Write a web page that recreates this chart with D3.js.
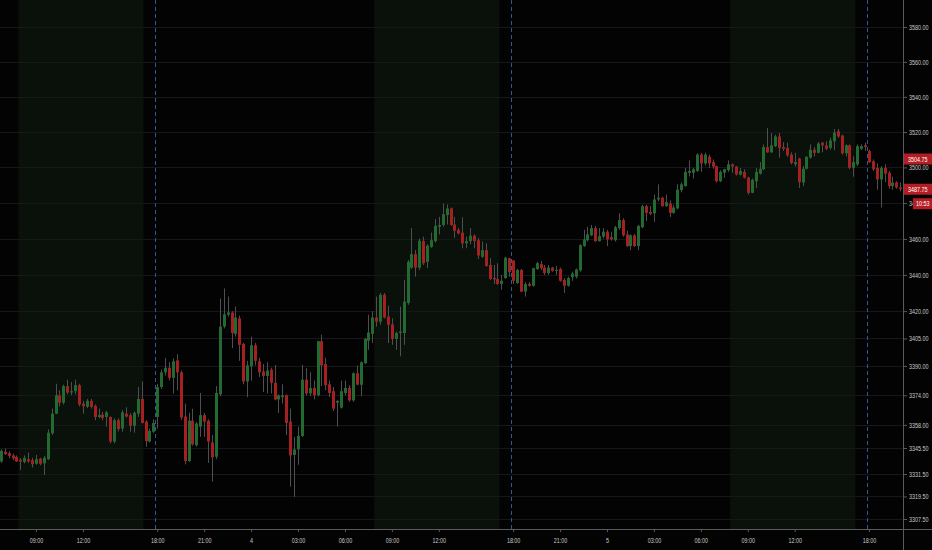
<!DOCTYPE html>
<html>
<head>
<meta charset="utf-8">
<script src="https://cdn.jsdelivr.net/npm/d3@7"></script>
<style>
  html, body { margin: 0; padding: 0; background: #030303; overflow: hidden; }
  svg { display: block; }
  text { font-family: 'Liberation Sans', 'DejaVu Sans', sans-serif; }
</style>
</head>
<body>
<div id="chart"></div>
<script>
// 15 minute bars, first one is day 3 06:45
const firstBar = { day: 3, minutes: 6 * 60 + 45 };

const open = [
    3338.25, 3343.5, 3342.75, 3341.5, 3340.75, 3339.25, 3338, 3339.5, 3339, 3337,
    3339.75, 3337.25, 3339.5, 3353.5, 3364, 3374, 3370, 3379, 3375.5, 3376.25,
    3379.5, 3369.5, 3367.75, 3371, 3368.25, 3362.25, 3363.5, 3362.25, 3362.25, 3349,
    3360.5, 3356, 3364, 3363.25, 3357.5, 3364, 3372, 3359.75, 3349, 3354.25,
    3362.25, 3378.5, 3386.5, 3389, 3383.5, 3393, 3386.5, 3362.5, 3338.5, 3360.25,
    3347, 3357, 3363.25, 3360.25, 3348.5, 3340.75, 3374.5, 3411.5, 3418, 3419.25,
    3407.5, 3416, 3402, 3381.5, 3389.75, 3401.25, 3392.5, 3387, 3384.5, 3388,
    3380.75, 3371.75, 3373, 3374, 3359.75, 3341.75, 3344.75, 3352, 3382.5, 3375,
    3378, 3374, 3403.5, 3391, 3380, 3376.25, 3370, 3367.25, 3375.25, 3378,
    3371.25, 3386, 3379.75, 3391.5, 3403.75, 3407.5, 3416.5, 3414.25, 3429, 3417,
    3412.75, 3404.75, 3408, 3408, 3424.5, 3444, 3451.5, 3444, 3458.75, 3447.25,
    3455.5, 3458.75, 3466.75, 3467.75, 3473.25, 3477, 3468, 3465, 3463.5, 3457.5,
    3458.75, 3461.75, 3459.25, 3450, 3453.75, 3445.5, 3438.25, 3437.75, 3435, 3438.25,
    3449.25, 3448, 3435.5, 3442.75, 3430.75, 3435, 3434, 3443.25, 3446, 3444,
    3441, 3444, 3442.25, 3443.25, 3437.25, 3434, 3438.75, 3439, 3442.5, 3456,
    3459.25, 3462, 3466, 3458.75, 3461.25, 3464, 3461, 3459.25, 3466, 3470.5,
    3462.5, 3456, 3462, 3456, 3466.5, 3478.25, 3475, 3474.25, 3482, 3483,
    3478.25, 3479.75, 3474.5, 3477, 3487.25, 3489.5, 3497, 3497, 3498, 3507.25,
    3502.25, 3506, 3503, 3500.75, 3492.25, 3497, 3498.5, 3501.75, 3500.5, 3496,
    3497.5, 3494.25, 3485.75, 3492.25, 3496.5, 3499, 3511.5, 3508.5, 3512, 3517.5,
    3511.5, 3511, 3507.25, 3501.75, 3505, 3491.5, 3499.25, 3505.5, 3510, 3508.25,
    3514, 3512.5, 3511, 3514.75, 3520.5, 3518, 3508, 3512.5, 3499.75, 3501.75,
    3510.5, 3512.5, 3509.25, 3503.5, 3499.75, 3493.25, 3499.75, 3497, 3489.5, 3491.5,
    3488.75
];
const high = [
    3344.75, 3345.25, 3343.75, 3342.5, 3341.5, 3340, 3341.5, 3343, 3340.25, 3341.75,
    3340.25, 3341.25, 3355.5, 3366.75, 3380.25, 3376.75, 3379.75, 3382.5, 3381.25, 3382.5,
    3380.25, 3371, 3372, 3372, 3369, 3366.75, 3365, 3365.5, 3362.5, 3361.5,
    3361.5, 3366, 3367.5, 3364.25, 3365.25, 3378.5, 3381.5, 3360.5, 3356, 3361,
    3380.25, 3388, 3394.25, 3392, 3394, 3396.5, 3387.5, 3369.5, 3364.5, 3366.75,
    3359.5, 3375.25, 3364.5, 3361, 3352.5, 3379, 3427, 3432.5, 3428, 3420,
    3422.5, 3417.5, 3402.5, 3392.75, 3406, 3402.5, 3394.5, 3391, 3392, 3389,
    3390.5, 3374.5, 3380, 3374.5, 3366.75, 3351.5, 3357, 3390.5, 3388.75, 3386.5,
    3382, 3403.75, 3407, 3394.5, 3382, 3378.5, 3371.25, 3382, 3382, 3379.5,
    3386.5, 3390.25, 3392.5, 3405.25, 3418, 3420, 3428, 3430, 3430, 3423,
    3416, 3408.75, 3422.5, 3437.25, 3448.25, 3466, 3453.75, 3460.25, 3461.25, 3457,
    3463.5, 3471, 3472.25, 3479.75, 3479.25, 3477.5, 3472.25, 3466, 3472, 3461.25,
    3466, 3462.5, 3460.5, 3458.5, 3457.5, 3449.25, 3445.5, 3446.5, 3440, 3450,
    3449.5, 3448.25, 3443.25, 3443.25, 3436, 3436, 3444, 3447.25, 3447.75, 3445.5,
    3445.5, 3444.5, 3445, 3444, 3438.25, 3439, 3441.75, 3443.5, 3457, 3465,
    3466.75, 3467.75, 3467.25, 3466, 3466, 3465, 3464, 3467.25, 3474.25, 3471.5,
    3464.5, 3462.5, 3462.75, 3467.75, 3479, 3479, 3478.25, 3484.75, 3490.5, 3483.5,
    3484.75, 3481.5, 3479, 3490.5, 3491.5, 3499.75, 3504, 3499.75, 3508, 3508.25,
    3508.25, 3507.25, 3504.5, 3501, 3498.5, 3499.25, 3504, 3502.25, 3500.75, 3499.75,
    3499, 3494.75, 3493.75, 3499.75, 3503, 3513, 3522.25, 3519.5, 3518.5, 3519.5,
    3514.25, 3514, 3508.5, 3508.25, 3505.5, 3500.75, 3506.25, 3513, 3511.5, 3514.25,
    3514.25, 3514.75, 3516.75, 3521.75, 3521.75, 3518.5, 3513, 3513, 3506.25, 3513,
    3513, 3514, 3510, 3504.5, 3502.25, 3500.75, 3501.75, 3498, 3494.75, 3492.25,
    3491.5
];
const low = [
    3337.5, 3341.75, 3340, 3339, 3338, 3333.75, 3337.25, 3337.5, 3335, 3336.5,
    3336.25, 3331, 3339, 3352.5, 3363.75, 3368, 3369, 3374.5, 3374, 3374.5,
    3368, 3364, 3367, 3366.75, 3360.5, 3361.5, 3360.5, 3357, 3348, 3348,
    3354.5, 3354.25, 3362, 3354.25, 3353.75, 3362.25, 3358.75, 3346.25, 3348.5, 3353.5,
    3356, 3377.5, 3384.75, 3382, 3375, 3376.75, 3360.75, 3336.75, 3338, 3346.75,
    3346.25, 3351.5, 3351.5, 3337.5, 3327.5, 3339.5, 3373.5, 3410.5, 3417, 3399.75,
    3406, 3392.75, 3380, 3373, 3382, 3390.25, 3384, 3375.75, 3375, 3375,
    3371.25, 3364.5, 3369.5, 3352.5, 3324.75, 3319.25, 3336.5, 3351.5, 3374, 3373.5,
    3371.75, 3373.5, 3379, 3376.75, 3373, 3365.5, 3357, 3366.75, 3374, 3370.5,
    3370.5, 3379.5, 3373.5, 3391, 3398.75, 3402.5, 3411.5, 3412.5, 3416, 3402.5,
    3401.5, 3398.75, 3395.25, 3401.5, 3423.5, 3443.25, 3439, 3442.75, 3445.5, 3443.75,
    3455, 3458, 3462.5, 3466.75, 3468, 3467.25, 3460.5, 3462.5, 3454.75, 3454.75,
    3457, 3454.75, 3448.75, 3449.5, 3444.5, 3437.25, 3435, 3434.5, 3431.75, 3437.75,
    3439, 3435, 3435, 3430.5, 3428, 3433.5, 3433.5, 3442.75, 3442.75, 3440,
    3440, 3441.75, 3440, 3436.25, 3430, 3433.5, 3436.75, 3438, 3441.75, 3455.5,
    3458.5, 3461.5, 3458.5, 3458.5, 3460.25, 3456, 3459, 3458.5, 3465, 3461.25,
    3455.5, 3453.75, 3455.5, 3453.75, 3466, 3470, 3473.25, 3469.5, 3481, 3478,
    3478, 3472.25, 3474, 3476.5, 3486, 3489.25, 3495, 3493.75, 3497.5, 3497.5,
    3501, 3499.75, 3499.25, 3491.5, 3491.75, 3494.25, 3497.5, 3497, 3495.5, 3495.5,
    3493.75, 3484.75, 3485.5, 3488.5, 3496, 3498.5, 3508.25, 3508.25, 3511.5, 3505.5,
    3509.25, 3506, 3501.75, 3500.5, 3488.5, 3489.5, 3499, 3505, 3506.25, 3508,
    3508.5, 3509.75, 3510, 3509.75, 3516.75, 3507.25, 3506.25, 3499, 3494.75, 3500.75,
    3509.75, 3509.25, 3502.5, 3498, 3487.5, 3477.5, 3491.75, 3488, 3487.5, 3488,
    3486.5
];
const close = [
    3344, 3342.25, 3341.25, 3340, 3338.25, 3338.25, 3340.25, 3338.25, 3336.75, 3339.5,
    3337, 3340.25, 3353.75, 3364, 3374, 3370, 3379, 3375.5, 3376.25, 3379.5,
    3369, 3368, 3371, 3367.75, 3362.25, 3363.25, 3361.75, 3364.75, 3349, 3360.5,
    3355.75, 3364.75, 3362.5, 3357.5, 3364.5, 3372, 3359, 3349.25, 3354.75, 3359,
    3378.5, 3386.5, 3389, 3383.5, 3392.5, 3386.5, 3362, 3338.5, 3360.25, 3347.5,
    3358.75, 3363.25, 3359.75, 3349, 3340.5, 3375.25, 3411.5, 3418.25, 3419.25, 3408,
    3416.5, 3401.5, 3381.5, 3390.25, 3401.25, 3392.75, 3386.5, 3384.5, 3387.5, 3380.75,
    3371.75, 3374, 3374, 3359, 3341.5, 3344.75, 3352, 3382.5, 3375, 3378,
    3374, 3403.5, 3390.25, 3379.5, 3375.25, 3366.75, 3371, 3376.25, 3378, 3371.25,
    3386, 3379.75, 3392, 3404.75, 3408.25, 3416.5, 3414.25, 3429, 3416.5, 3412.5,
    3404.75, 3408, 3408.75, 3425.25, 3447.25, 3451.5, 3444, 3459, 3446.5, 3456.25,
    3459.25, 3467.25, 3467.75, 3473.75, 3477, 3467.75, 3464.5, 3463, 3457.5, 3458.75,
    3461.75, 3458.75, 3450.75, 3453.75, 3445, 3437.75, 3437.5, 3435, 3436.75, 3449.5,
    3441.5, 3436.75, 3442.75, 3430.75, 3435, 3434, 3443.75, 3446.5, 3443.75, 3441,
    3444, 3442.25, 3442.75, 3436.75, 3434, 3438.25, 3440.75, 3443, 3456.5, 3459.75,
    3462.5, 3466, 3458.75, 3461.5, 3464, 3459.75, 3459.75, 3466.5, 3470.5, 3462,
    3456, 3462, 3456, 3467.25, 3478.25, 3474.5, 3474, 3482, 3483, 3478.25,
    3480.5, 3474.5, 3477.5, 3487.5, 3490.5, 3497.5, 3498, 3499, 3507.25, 3502.25,
    3507.25, 3502.25, 3500.5, 3492.25, 3497.5, 3499, 3501.75, 3500.5, 3496, 3498,
    3494.25, 3485.75, 3493, 3497.5, 3499.25, 3511.5, 3508.5, 3512.5, 3517.5, 3511,
    3510.5, 3506.75, 3502.5, 3503, 3491.75, 3499.25, 3506, 3510, 3508.25, 3513.5,
    3512.5, 3510.5, 3515.25, 3519.75, 3517.5, 3508, 3512.5, 3499.75, 3503, 3512,
    3512, 3511.5, 3503, 3499, 3493.25, 3499.75, 3496.5, 3489.5, 3491.5, 3488.75,
    3487.75
];

const priceTicks = [3580, 3560, 3540, 3520, 3500, 3480, 3460, 3440, 3420, 3405, 3390, 3374, 3358, 3345.5, 3331.5, 3319.5, 3307.5];
const timeTicks = ['3 09:00', '3 12:00', '3 18:00', '3 21:00', '4 00:00', '4 03:00', '4 06:00', '4 09:00', '4 12:00',
                   '4 18:00', '4 21:00', '5 00:00', '5 03:00', '5 06:00', '5 09:00', '5 12:00', '5 18:00'];
const timeTickLabels = ['09:00', '12:00', '18:00', '21:00', '4', '03:00', '06:00', '09:00', '12:00',
                        '18:00', '21:00', '5', '03:00', '06:00', '09:00', '12:00', '18:00'];
const priceMarkers = [3504.75, 3487.75];
const countdown = '10:53';

const W = 932, H = 550;
const plotRight = 903, plotBottom = 529;

const colors = {
    up: '#226a30',
    down: '#a52020',
    wick: '#4e4f52',
    grid: '#16161b',
    band: '#0a110b',
    sessionLine: '#2f5a8f',
    axis: '#5a5a5a',
    text: '#c9c9c9',
    marker: '#b41d24'
};

// axis font in the screenshot is very narrow, squeeze it horizontally
function narrow(sel, f) {
    sel.each(function() {
        const t = d3.select(this);
        const x0 = +t.attr('x') || 0;
        t.attr('x', x0 / f).attr('transform', `scale(${f},1)`);
    });
}

//## Bar times (market closed 16:15-16:30 and 17:00-18:00)
function buildBarTimes(n) {
    const out = [];
    let day = firstBar.day;
    let m = firstBar.minutes;
    while(out.length < n) {
        const closed = (m >= 975 && m < 990) || (m >= 1020 && m < 1080);
        if(!closed) {
            const hh = String(Math.floor(m / 60)).padStart(2, '0');
            const mm = String(m % 60).padStart(2, '0');
            out.push({ day: day, minutes: m, key: `${day} ${hh}:${mm}` });
        }
        m += 15;
        if(m >= 1440) { m -= 1440; day += 1; }
    }
    return out;
}

function renderChart(element) {
    const n = close.length;
    const bars = buildBarTimes(n);

    const x = d3.scaleLinear().domain([0, n - 1]).range([0.8, 900.3]);
    const step = x(1) - x(0);
    const y = d3.scaleLog().domain([3307.5, 3580]).range([519, 27]);

    const svg = d3.select(element).append('svg')
        .attr('width', W)
        .attr('height', H)
        .style('background', '#030303');

    const plot = svg.append('g');

    //## Session shading 08:00 - 16:00
    const bands = [];
    var start = null;
    bars.forEach((b, i) => {
        const inside = b.minutes >= 480 && b.minutes < 960;
        if(inside && start === null) start = i;
        if(!inside && start !== null) { bands.push([start, i - 1]); start = null; }
    });
    if(start !== null) bands.push([start, n - 1]);

    plot.selectAll('rect.band')
        .data(bands)
        .enter().append('rect')
            .attr('class', 'band')
            .attr('x', d => x(d[0]) - step / 2)
            .attr('width', d => x(d[1]) - x(d[0]) + step)
            .attr('y', 0)
            .attr('height', plotBottom)
            .attr('fill', colors.band);

    //## Grid
    plot.selectAll('line.grid')
        .data(priceTicks)
        .enter().append('line')
            .attr('class', 'grid')
            .attr('x1', 0)
            .attr('x2', plotRight)
            .attr('y1', d => Math.round(y(d)) + 0.5)
            .attr('y2', d => Math.round(y(d)) + 0.5)
            .attr('stroke', colors.grid);

    //## Session breaks at 18:00
    const sessionStarts = bars.map((b, i) => i).filter(i => bars[i].minutes === 1080);
    plot.selectAll('line.session')
        .data(sessionStarts)
        .enter().append('line')
            .attr('class', 'session')
            .attr('x1', i => Math.round(x(i) - step / 2) + 0.5)
            .attr('x2', i => Math.round(x(i) - step / 2) + 0.5)
            .attr('y1', 0)
            .attr('y2', plotBottom)
            .attr('stroke', colors.sessionLine)
            .attr('stroke-dasharray', '4,3');

    //## Candles
    const candles = plot.selectAll('g.candle')
        .data(d3.range(n))
        .enter().append('g')
            .attr('class', 'candle');

    candles.append('line')
        .attr('x1', i => Math.round(x(i)) + 0.5)
        .attr('x2', i => Math.round(x(i)) + 0.5)
        .attr('y1', i => y(high[i]))
        .attr('y2', i => y(low[i]))
        .attr('stroke', colors.wick);

    candles.append('rect')
        .attr('x', i => Math.round(x(i)) - 1)
        .attr('width', 3)
        .attr('y', i => y(Math.max(open[i], close[i])))
        .attr('height', i => Math.max(1, Math.abs(y(open[i]) - y(close[i]))))
        .attr('fill', i => close[i] >= open[i] ? colors.up : colors.down);

    //## Price axis
    const yAxis = svg.append('g')
        .attr('transform', `translate(${plotRight},0)`)
        .call(d3.axisRight(y)
            .tickValues(priceTicks)
            .tickFormat(d3.format('.2f'))
            .tickSize(4)
            .tickPadding(2));
    yAxis.select('.domain').remove();
    yAxis.selectAll('line').attr('stroke', colors.axis);
    yAxis.selectAll('text')
        .attr('fill', colors.text)
        .style('font-size', '7.5px')
        .call(narrow, 0.72);

    //## Time axis
    const tickIndex = timeTicks.map(t => bars.findIndex(b => b.key === t));
    const xAxis = svg.append('g')
        .attr('transform', `translate(0,${plotBottom})`)
        .call(d3.axisBottom(x)
            .tickValues(tickIndex)
            .tickFormat((d, k) => timeTickLabels[k])
            .tickSize(3)
            .tickPadding(6));
    xAxis.select('.domain').remove();
    xAxis.selectAll('line').attr('stroke', colors.axis);
    xAxis.selectAll('text')
        .attr('fill', colors.text)
        .style('font-size', '7.5px')
        .call(narrow, 0.72);

    svg.append('line')
        .attr('x1', 0).attr('x2', W)
        .attr('y1', plotBottom + 0.5).attr('y2', plotBottom + 0.5)
        .attr('stroke', colors.axis);
    svg.append('line')
        .attr('x1', plotRight + 0.5).attr('x2', plotRight + 0.5)
        .attr('y1', 0).attr('y2', H)
        .attr('stroke', colors.axis);

    //## Price markers
    const markers = svg.selectAll('g.marker')
        .data(priceMarkers)
        .enter().append('g')
            .attr('class', 'marker')
            .attr('transform', d => `translate(${plotRight + 1},${y(d)})`);
    markers.append('rect')
        .attr('x', 0).attr('y', -5.5)
        .attr('width', W - plotRight - 1).attr('height', 11)
        .attr('fill', colors.marker);
    markers.append('text')
        .attr('x', 4).attr('dy', '0.35em')
        .attr('fill', '#ffffff')
        .style('font-size', '7.5px')
        .text(d => d.toFixed(2))
        .call(narrow, 0.72);

    const last = priceMarkers[priceMarkers.length - 1];
    const cd = svg.append('g')
        .attr('transform', `translate(${plotRight + 10},${y(last) + 14.5})`);
    cd.append('rect')
        .attr('x', 0).attr('y', -5.5)
        .attr('width', W - plotRight - 10).attr('height', 11)
        .attr('fill', colors.marker);
    cd.append('text')
        .attr('x', 3).attr('dy', '0.35em')
        .attr('fill', '#ffffff')
        .style('font-size', '7.5px')
        .text(countdown)
        .call(narrow, 0.72);
}

renderChart(document.getElementById('chart'));
</script>
</body>
</html>
